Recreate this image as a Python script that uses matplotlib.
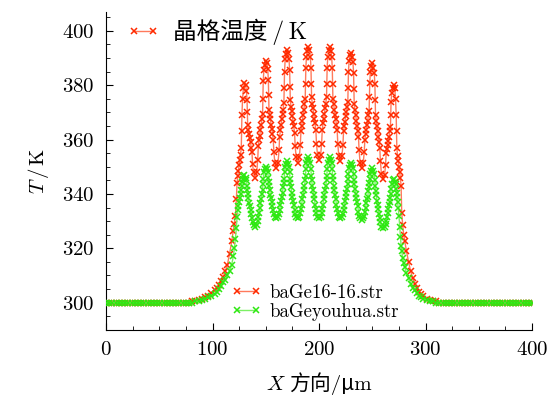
import numpy as np
import matplotlib
matplotlib.use("Agg")
import matplotlib.pyplot as plt
from matplotlib.ticker import MultipleLocator
from matplotlib.offsetbox import TextArea, HPacker, AnchoredOffsetbox

plt.rcParams["font.family"] = ["cmr10", "Noto Sans CJK SC", "DejaVu Sans"]
plt.rcParams["mathtext.fontset"] = "cm"
plt.rcParams["axes.unicode_minus"] = False
plt.rcParams["axes.formatter.use_mathtext"] = True

# x positions (um), one row per emitter period
x_um = [
    [0, 3, 6, 9, 12, 15, 18, 21, 24, 27, 30, 33, 36, 39, 42, 45, 48, 51, 54, 57, 60, 63, 66, 69, 72, 75, 78,
     81, 84, 87, 90, 93, 96, 99, 102, 104, 106, 108, 110, 112, 114, 116, 118, 119.5, 120.5],
    [121.5, 122.4, 123.0, 123.7, 124.3, 125.0, 125.7, 126.3, 127.0, 127.3, 127.6, 128.2, 129.0, 130,
     131.0, 131.8, 132.4, 132.7, 133.0, 133.7, 134.3, 135.0, 135.7, 136.3, 137.0, 137.6, 138.5, 140],
    [141.5, 142.4, 143.0, 143.7, 144.3, 145.0, 145.7, 146.3, 147.0, 147.3, 147.6, 148.2, 149.0, 150,
     151.0, 151.8, 152.4, 152.7, 153.0, 153.7, 154.3, 155.0, 155.7, 156.3, 157.0, 157.6, 158.5, 160],
    [161.5, 162.4, 163.0, 163.7, 164.3, 165.0, 165.7, 166.3, 167.0, 167.3, 167.6, 168.2, 169.0, 170,
     171.0, 171.8, 172.4, 172.7, 173.0, 173.7, 174.3, 175.0, 175.7, 176.3, 177.0, 177.6, 178.5, 180],
    [181.5, 182.4, 183.0, 183.7, 184.3, 185.0, 185.7, 186.3, 187.0, 187.3, 187.6, 188.2, 189.0, 190,
     191.0, 191.8, 192.4, 192.7, 193.0, 193.7, 194.3, 195.0, 195.7, 196.3, 197.0, 197.6, 198.5, 200],
    [201.5, 202.4, 203.0, 203.7, 204.3, 205.0, 205.7, 206.3, 207.0, 207.3, 207.6, 208.2, 209.0, 210,
     211.0, 211.8, 212.4, 212.7, 213.0, 213.7, 214.3, 215.0, 215.7, 216.3, 217.0, 217.6, 218.5, 220],
    [221.5, 222.4, 223.0, 223.7, 224.3, 225.0, 225.7, 226.3, 227.0, 227.3, 227.6, 228.2, 229.0, 230,
     231.0, 231.8, 232.4, 232.7, 233.0, 233.7, 234.3, 235.0, 235.7, 236.3, 237.0, 237.6, 238.5, 240],
    [241.5, 242.4, 243.0, 243.7, 244.3, 245.0, 245.7, 246.3, 247.0, 247.3, 247.6, 248.2, 249.0, 250,
     251.0, 251.8, 252.4, 252.7, 253.0, 253.7, 254.3, 255.0, 255.7, 256.3, 257.0, 257.6, 258.5, 260],
    [261.5, 262.4, 263.0, 263.7, 264.3, 265.0, 265.7, 266.3, 267.0, 267.3, 267.6, 268.2, 269.0, 270,
     271.0, 271.8, 272.4, 272.7, 273.0, 273.7, 274.3, 275.0, 275.7, 276.3, 277.0, 277.6, 278.5, 279.5,
     280.5, 282, 284, 286, 288, 290, 292, 294, 296, 298, 301, 304, 307, 310, 313, 316, 319],
    [322, 325, 328, 331, 334, 337, 340, 343, 346, 349, 352, 355, 358, 361, 364, 367, 370, 373, 376, 379,
     382, 385, 388, 391, 394, 397, 400],
]

# lattice temperature (K), baGe16-16.str
t_ge16 = [
    [300, 300, 300, 300, 300, 300, 300, 300, 300, 300, 300, 300, 300, 300, 300, 300, 300, 300, 300, 300,
     300, 300, 300, 300, 300, 300, 300,
     300.5, 300.5, 301, 301.5, 302, 302.5, 303.5, 304.5, 305.5, 306.5, 308, 309.5, 311.5, 314, 318, 322.5,
     326.5, 329],
    [332, 338, 344, 346.5, 348.5, 350.5, 352.5, 354.5, 357, 363, 369, 375, 379, 381,
     380, 378, 374.5, 370, 365.5, 363.5, 362, 360.5, 359, 357, 355.5, 351, 348, 346],
    [348, 352.5, 357.5, 360, 361.5, 363.5, 365.5, 367.5, 369.5, 375, 381.5, 385.5, 387.5, 389,
     388, 386, 382, 376.5, 371, 369, 367.5, 365.5, 364, 362, 360, 355.5, 351.5, 349.5],
    [351.5, 356, 361, 363.5, 365.5, 367.5, 369.5, 371, 373.5, 379, 385, 389.5, 391.5, 393,
     392, 389.5, 385.5, 379.5, 374.5, 372, 370.5, 368.5, 366.5, 365, 362.5, 357.5, 353.5, 351.5],
    [353.5, 358, 363, 365, 367, 369, 371, 373, 375, 380.5, 386.5, 390.5, 392.5, 394,
     393, 390.5, 386.5, 380.5, 375.5, 373, 371.5, 369.5, 367.5, 366, 363.5, 358.5, 354.5, 352.5],
    [354.5, 358.5, 363.5, 366, 367.5, 369.5, 371.5, 373, 375.5, 380.5, 386.5, 390.5, 393, 394,
     392.5, 390.5, 386.5, 380.5, 375, 373, 371, 369, 367.5, 365.5, 363.5, 358.5, 354, 352],
    [354, 358, 363, 365, 366.5, 368.5, 370, 372, 374, 379, 385, 389, 391, 392,
     390.5, 388.5, 384.5, 378.5, 373, 371, 369, 367, 365, 363, 361, 356, 351.5, 349.5],
    [351.5, 355.5, 360, 362, 363.5, 365.5, 367, 369, 370.5, 375.5, 381, 385, 387, 388,
     386.5, 384.5, 380.5, 374.5, 369, 367, 365, 363, 361, 359, 357, 352, 347.5, 345.5],
    [347, 350.5, 355, 356.5, 358, 359.5, 361, 363, 364.5, 369, 374, 377, 379, 380,
     379, 375, 369, 363, 357, 354, 352, 350, 348, 346, 343, 333, 328.5, 325, 322.5, 319, 315, 311.5,
     309, 307, 305.5, 304, 303, 302.5, 301.5, 301, 300.5, 300.5, 300, 300, 300],
    [300, 300, 300, 300, 300, 300, 300, 300, 300, 300, 300, 300, 300, 300, 300, 300, 300, 300, 300, 300,
     300, 300, 300, 300, 300, 300, 300],
]

# lattice temperature (K), baGeyouhua.str
t_youhua = [
    [300, 300, 300, 300, 300, 300, 300, 300, 300, 300, 300, 300, 300, 300, 300, 300, 300, 300, 300, 300,
     300, 300, 300, 300, 300, 300, 300,
     300, 300.5, 300.5, 301, 301.5, 302, 302.5, 303, 304, 305, 306, 307.5, 308.5, 310, 311.5, 314, 317, 320],
    [323.5, 327.5, 331.5, 334, 335.5, 337, 338.5, 340, 341.5, 343, 344.5, 345.5, 346.5, 347,
     346, 345, 343, 341.5, 340, 338.5, 336.5, 335.5, 334, 332.5, 331, 329.5, 328.5, 328],
    [328.5, 330, 331.5, 333, 335, 336.5, 338, 340, 341.5, 343.5, 345.5, 348, 349, 350,
     349, 348, 346, 344.5, 343, 341.5, 339.5, 338.5, 337, 335.5, 334, 332.5, 331.5, 331],
    [331.5, 332.5, 334, 336, 337.5, 339, 340.5, 342.5, 344, 345.5, 348, 350, 351, 352,
     351, 350, 348, 345.5, 344, 342.5, 340.5, 339, 337.5, 336, 334, 332.5, 331.5, 331],
    [331.5, 333, 334.5, 336, 338, 339.5, 341.5, 343, 345, 346.5, 349, 351.5, 352.5, 353.5,
     352.5, 351.5, 349, 346.5, 345, 343, 341.5, 339.5, 338, 336, 334.5, 333, 331.5, 331],
    [331.5, 333, 334.5, 336, 338, 339.5, 341.5, 343, 345, 346.5, 349, 351.5, 352.5, 353.5,
     352.5, 351.5, 349, 346.5, 345, 343, 341.5, 339.5, 338, 336, 334.5, 333, 331.5, 331],
    [331.5, 332.5, 334, 335.5, 337.5, 339, 340.5, 342, 343.5, 345.5, 347.5, 349.5, 350.5, 351.5,
     350.5, 349.5, 347.5, 345, 343.5, 342, 340, 338.5, 337, 335.5, 333.5, 332, 331, 330.5],
    [331, 332, 333.5, 335, 336.5, 338, 339, 341, 342.5, 344, 345.5, 347.5, 348.5, 349.5,
     348.5, 347.5, 345, 343, 341, 339.5, 337.5, 336, 334.5, 332.5, 331, 329.5, 328, 327.5],
    [328, 329, 330, 331.5, 333, 334.5, 336, 337, 338.5, 340, 342, 343.5, 345, 345.5,
     344.5, 343.5, 342, 340.5, 339, 337, 335, 332, 328, 324, 321, 319, 316.5, 314.5, 313, 311, 309, 307,
     305.5, 304.5, 303.5, 302.5, 302, 301.5, 301, 300.5, 300.5, 300, 300, 300, 300],
    [300, 300, 300, 300, 300, 300, 300, 300, 300, 300, 300, 300, 300, 300, 300, 300, 300, 300, 300, 300,
     300, 300, 300, 300, 300, 300, 300],
]

series_labels = ["baGe16-16.str", "baGeyouhua.str"]
top_label = "晶格温度\u2009/\u2009K"

x = np.concatenate([np.asarray(r, float) for r in x_um])
t_red = np.concatenate([np.asarray(r, float) for r in t_ge16])
t_grn = np.concatenate([np.asarray(r, float) for r in t_youhua])
assert len(x) == len(t_red) == len(t_grn), (len(x), len(t_red), len(t_grn))

fig = plt.figure(figsize=(5.52, 3.95), dpi=100)
ax = fig.add_axes([0.192, 0.165, 0.772, 0.805])

l_red, = ax.plot(x, t_red, color="#ff7a5c", lw=1.0, marker="x", ms=4.2, mew=1.1,
                 mec="#ff2a00", zorder=2)
l_grn, = ax.plot(x, t_grn, color="#7cf064", lw=1.0, marker="x", ms=4.2, mew=1.1,
                 mec="#2ee812", zorder=3)

ax.set_xlim(0, 400)
ax.set_ylim(290, 407)
ax.xaxis.set_major_locator(MultipleLocator(100))
ax.xaxis.set_minor_locator(MultipleLocator(25))
ax.yaxis.set_major_locator(MultipleLocator(20))
ax.yaxis.set_minor_locator(MultipleLocator(5))
for s in ("top", "right"):
    ax.spines[s].set_visible(False)
ax.tick_params(which="both", direction="in", top=False, right=False, labelsize=15, pad=8)
ax.tick_params(which="major", length=5)
ax.tick_params(which="minor", length=3)

ax.set_ylabel(r"$T\,/\,\mathrm{K}$", fontsize=15, labelpad=8)

xl = HPacker(children=[TextArea("$X$", textprops=dict(fontsize=15)),
                       TextArea("方向/μm", textprops=dict(fontsize=15))],
             align="baseline", pad=0, sep=2)
fig.add_artist(AnchoredOffsetbox(loc="center", child=xl, pad=0, borderpad=0, frameon=False,
                                 bbox_to_anchor=(0.578, 0.03), bbox_transform=fig.transFigure))

leg1 = ax.legend([l_red], [top_label], loc="upper left", bbox_to_anchor=(0.0, 1.045),
                 frameon=False, numpoints=2, handlelength=1.4, handletextpad=0.55, fontsize=17)
ax.add_artist(leg1)
ax.legend([l_red, l_grn], series_labels, loc="lower left", bbox_to_anchor=(0.255, -0.024),
          frameon=False, numpoints=2, handlelength=1.6, handletextpad=0.45, fontsize=13.5,
          labelspacing=0.05)

fig.savefig("out.png", dpi=100)
